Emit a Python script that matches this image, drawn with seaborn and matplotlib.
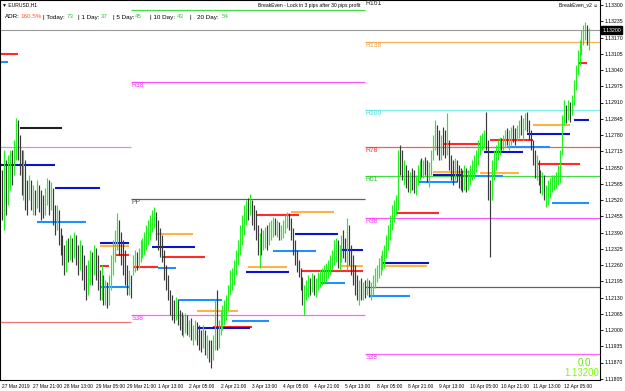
import matplotlib
matplotlib.use("Agg")
import matplotlib.pyplot as plt
import matplotlib.transforms as mtransforms
import seaborn as sns
import pandas as pd

sns.set_theme(style="white")
plt.rcParams['font.family'] = ['Liberation Sans', 'DejaVu Sans']

# ---------------- data (EURUSD H1, 27 Mar 2019 05:00 -> 12 Apr 2019) ----------------
first_open = 1.12600
high = [
 1.12640,1.12720,1.12680,1.12700,1.12720,1.12720,1.12760,1.12848,1.12840,1.12780,
 1.12720,1.12720,1.12680,1.12600,1.12620,1.12600,1.12580,1.12560,1.12600,1.12580,
 1.12560,1.12540,1.12568,1.12608,1.12600,1.12592,1.12568,1.12500,1.12500,1.12480,
 1.12408,1.12380,1.12340,1.12360,1.12368,1.12380,1.12368,1.12392,1.12380,1.12340,
 1.12360,1.12340,1.12300,1.12260,1.12280,1.12320,1.12312,1.12340,1.12328,1.12300,
 1.12240,1.12260,1.12220,1.12200,1.12192,1.12220,1.12300,1.12360,1.12400,1.12468,
 1.12440,1.12392,1.12360,1.12320,1.12260,1.12240,1.12220,
 1.12300,1.12320,1.12312,1.12328,1.12360,1.12368,1.12392,1.12420,1.12440,1.12460,
 1.12480,1.12492,1.12472,1.12440,1.12408,1.12380,1.12320,1.12260,1.12220,1.12160,
 1.12140,1.12120,1.12132,1.12120,1.12080,1.12072,1.12060,1.12068,1.12060,1.12040,
 1.12048,1.12020,1.12040,1.12032,1.12020,1.12000,1.12020,1.12000,1.11980,1.11960,
 1.11960,1.11980,1.12120,1.12160,1.12040,1.12080,1.12100,1.12120,1.12140,1.12180,
 1.12240,1.12248,1.12280,1.12320,1.12360,1.12420,1.12460,1.12500,1.12520,1.12528,
 1.12544,1.12520,1.12500,1.12480,1.12420,1.12388,1.12408,1.12400,1.12412,1.12420,
 1.12432,1.12440,1.12452,1.12448,1.12440,1.12432,1.12420,1.12440,1.12460,1.12472,
 1.12468,1.12448,1.12408,1.12360,1.12320,1.12280,1.12248,1.12212,1.12180,1.12200,
 1.12220,1.12208,1.12228,1.12220,1.12208,1.12232,1.12240,1.12248,1.12260,1.12268,
 1.12280,1.12300,1.12320,1.12360,1.12368,1.12360,1.12340,1.12380,1.12400,1.12368,
 1.12448,1.12420,1.12340,1.12300,1.12260,1.12220,1.12200,1.12208,1.12192,1.12200,
 1.12208,1.12200,1.12192,1.12220,1.12248,1.12260,1.12288,1.12300,1.12320,1.12340,
 1.12380,1.12420,1.12460,1.12500,1.12520,1.12540,1.12720,1.12740,1.12720,1.12680,
 1.12660,1.12640,1.12632,1.12648,1.12640,1.12620,1.12660,1.12680,1.12688,1.12680,
 1.12692,1.12680,1.12672,1.12720,1.12780,1.12840,1.12820,1.12800,1.12780,1.12812,
 1.12800,1.12868,1.12760,1.12700,1.12680,1.12688,1.12680,1.12660,1.12648,1.12640,
 1.12660,1.12648,1.12640,1.12660,1.12680,1.12700,1.12720,1.12760,1.12780,1.12788,
 1.12800,1.12872,1.12760,1.12600,1.12680,1.12720,1.12740,1.12760,1.12772,1.12768,
 1.12780,1.12800,1.12808,1.12800,1.12812,1.12820,1.12808,1.12820,1.12840,1.12860,
 1.12848,1.12868,1.12872,1.12840,1.12800,1.12760,1.12720,1.12700,1.12680,1.12640,
 1.12632,1.12620,1.12580,1.12600,1.12608,1.12620,1.12620,1.12632,1.12660,1.12720,
 1.12860,1.12920,1.12900,1.12920,1.12912,1.12940,1.13000,1.13060,1.13120,1.13160,
 1.13200,1.13220,1.13232,1.13220,1.13208,
]
low = [
 1.12440,1.12400,1.12460,1.12500,1.12560,1.12580,1.12620,1.12680,1.12680,1.12620,
 1.12540,1.12520,1.12480,1.12460,1.12520,1.12480,1.12460,1.12460,1.12488,1.12472,
 1.12440,1.12448,1.12460,1.12500,1.12460,1.12480,1.12420,1.12380,1.12400,1.12340,
 1.12300,1.12260,1.12220,1.12232,1.12272,1.12280,1.12272,1.12288,1.12260,1.12220,
 1.12240,1.12200,1.12160,1.12120,1.12140,1.12180,1.12180,1.12220,1.12200,1.12160,
 1.12120,1.12120,1.12100,1.12100,1.12088,1.12100,1.12160,1.12220,1.12272,1.12320,
 1.12300,1.12260,1.12220,1.12180,1.12140,1.12140,1.12128,
 1.12220,1.12232,1.12240,1.12248,1.12272,1.12288,1.12300,1.12320,1.12340,1.12360,
 1.12392,1.12408,1.12360,1.12320,1.12292,1.12272,1.12200,1.12160,1.12120,1.12060,
 1.12040,1.12028,1.12040,1.12020,1.12000,1.11980,1.11972,1.11988,1.11980,1.11972,
 1.11960,1.11940,1.11960,1.11940,1.11920,1.11912,1.11928,1.11900,1.11888,1.11872,
 1.11848,1.11880,1.11920,1.11920,1.11928,1.11980,1.12000,1.12020,1.12040,1.12080,
 1.12140,1.12160,1.12180,1.12220,1.12260,1.12300,1.12340,1.12380,1.12420,1.12440,
 1.12460,1.12420,1.12400,1.12360,1.12300,1.12248,1.12300,1.12320,1.12328,1.12320,
 1.12340,1.12360,1.12372,1.12380,1.12372,1.12360,1.12360,1.12368,1.12388,1.12408,
 1.12400,1.12360,1.12300,1.12260,1.12232,1.12212,1.12160,1.12100,1.12060,1.12120,
 1.12132,1.12140,1.12152,1.12140,1.12132,1.12160,1.12172,1.12180,1.12188,1.12192,
 1.12208,1.12220,1.12240,1.12260,1.12272,1.12248,1.12240,1.12272,1.12288,1.12272,
 1.12240,1.12260,1.12220,1.12180,1.12140,1.12120,1.12100,1.12120,1.12120,1.12128,
 1.12140,1.12132,1.12120,1.12140,1.12168,1.12192,1.12208,1.12220,1.12240,1.12248,
 1.12288,1.12320,1.12360,1.12400,1.12432,1.12460,1.12480,1.12620,1.12600,1.12580,
 1.12568,1.12552,1.12548,1.12560,1.12548,1.12540,1.12580,1.12600,1.12612,1.12608,
 1.12620,1.12592,1.12572,1.12620,1.12680,1.12720,1.12700,1.12680,1.12680,1.12700,
 1.12688,1.12700,1.12640,1.12600,1.12580,1.12600,1.12592,1.12568,1.12560,1.12552,
 1.12560,1.12552,1.12560,1.12580,1.12600,1.12608,1.12632,1.12660,1.12700,1.12720,
 1.12728,1.12720,1.12520,1.12292,1.12520,1.12600,1.12640,1.12680,1.12700,1.12720,
 1.12720,1.12728,1.12740,1.12720,1.12740,1.12752,1.12740,1.12760,1.12768,1.12780,
 1.12760,1.12800,1.12792,1.12760,1.12720,1.12660,1.12608,1.12600,1.12580,1.12548,
 1.12540,1.12520,1.12492,1.12500,1.12528,1.12552,1.12560,1.12568,1.12580,1.12588,
 1.12700,1.12820,1.12828,1.12840,1.12832,1.12860,1.12900,1.12960,1.13020,1.13060,
 1.13100,1.13140,1.13160,1.13140,1.13120,
]
close = [
 1.12540,1.12600,1.12520,1.12620,1.12660,1.12640,1.12720,1.12800,1.12760,1.12660,
 1.12600,1.12640,1.12560,1.12540,1.12580,1.12520,1.12540,1.12500,1.12560,1.12520,
 1.12500,1.12480,1.12540,1.12580,1.12520,1.12560,1.12460,1.12420,1.12460,1.12380,
 1.12340,1.12300,1.12260,1.12320,1.12300,1.12340,1.12320,1.12360,1.12300,1.12280,
 1.12320,1.12260,1.12220,1.12180,1.12240,1.12280,1.12240,1.12300,1.12260,1.12200,
 1.12160,1.12180,1.12140,1.12160,1.12120,1.12180,1.12240,1.12300,1.12340,1.12400,
 1.12360,1.12320,1.12280,1.12220,1.12180,1.12200,1.12160,
 1.12272,1.12288,1.12260,1.12300,1.12320,1.12340,1.12360,1.12380,1.12408,1.12420,
 1.12448,1.12460,1.12392,1.12360,1.12320,1.12300,1.12232,1.12180,1.12140,1.12100,
 1.12080,1.12060,1.12100,1.12048,1.12032,1.12008,1.12020,1.12040,1.12000,1.12008,
 1.11980,1.11992,1.12000,1.11968,1.11960,1.11940,1.11980,1.11920,1.11940,1.11900,
 1.11888,1.11940,1.12100,1.11940,1.12020,1.12060,1.12072,1.12100,1.12120,1.12160,
 1.12208,1.12220,1.12260,1.12300,1.12340,1.12392,1.12432,1.12480,1.12500,1.12480,
 1.12520,1.12460,1.12440,1.12392,1.12340,1.12360,1.12320,1.12368,1.12380,1.12340,
 1.12400,1.12408,1.12432,1.12400,1.12420,1.12380,1.12400,1.12420,1.12440,1.12448,
 1.12420,1.12380,1.12320,1.12288,1.12248,1.12232,1.12180,1.12120,1.12140,1.12160,
 1.12180,1.12160,1.12200,1.12168,1.12180,1.12208,1.12220,1.12232,1.12240,1.12248,
 1.12260,1.12280,1.12300,1.12328,1.12340,1.12280,1.12320,1.12360,1.12340,1.12300,
 1.12420,1.12288,1.12248,1.12208,1.12168,1.12140,1.12160,1.12152,1.12168,1.12160,
 1.12180,1.12152,1.12168,1.12200,1.12232,1.12240,1.12272,1.12280,1.12300,1.12320,
 1.12360,1.12400,1.12440,1.12480,1.12500,1.12520,1.12700,1.12660,1.12620,1.12640,
 1.12600,1.12580,1.12608,1.12580,1.12568,1.12600,1.12640,1.12660,1.12640,1.12660,
 1.12648,1.12620,1.12640,1.12700,1.12760,1.12800,1.12740,1.12720,1.12760,1.12728,
 1.12720,1.12740,1.12680,1.12640,1.12620,1.12660,1.12632,1.12600,1.12592,1.12580,
 1.12620,1.12600,1.12608,1.12640,1.12660,1.12680,1.12700,1.12740,1.12760,1.12768,
 1.12780,1.12760,1.12540,1.12520,1.12640,1.12700,1.12720,1.12740,1.12752,1.12740,
 1.12760,1.12780,1.12760,1.12768,1.12792,1.12780,1.12768,1.12800,1.12820,1.12808,
 1.12832,1.12848,1.12820,1.12780,1.12740,1.12700,1.12640,1.12660,1.12608,1.12580,
 1.12600,1.12540,1.12540,1.12568,1.12580,1.12600,1.12608,1.12616,1.12640,1.12700,
 1.12840,1.12880,1.12848,1.12900,1.12880,1.12920,1.12980,1.13040,1.13100,1.13140,
 1.13180,1.13200,1.13208,1.13180,1.13200,
]

price_ticks = [1.13300, 1.13235, 1.13170, 1.13105, 1.13040, 1.12975, 1.12910, 1.12845,
               1.12780, 1.12715, 1.12650, 1.12585, 1.12520, 1.12455, 1.12390, 1.12325,
               1.12260, 1.12195, 1.12130, 1.12065, 1.12000, 1.11935, 1.11870, 1.11805]
time_tick_bars = [0, 16, 32, 48, 64, 80, 96, 112, 128, 144, 160, 176, 192, 208, 224, 240, 256, 272, 288]
time_tick_labels = ["27 Mar 2019", "27 Mar 21:00", "28 Mar 13:00", "29 Mar 05:00", "29 Mar 21:00",
                    "1 Apr 13:00", "2 Apr 05:00", "2 Apr 21:00", "3 Apr 13:00", "4 Apr 05:00",
                    "4 Apr 21:00", "5 Apr 13:00", "8 Apr 05:00", "8 Apr 21:00", "9 Apr 13:00",
                    "10 Apr 05:00", "10 Apr 21:00", "11 Apr 13:00", "12 Apr 05:00"]
bid_price = 1.13200

# weekly Fibonacci pivots: week start bar / end bar, names, prices
week_start = [-2, 66, 186]
week_end = [66, 186, 310]
lvl_week = [0, 0, 1, 1, 1, 1, 2, 2, 2, 2, 2, 2, 2]
lvl_name = ["w1a", "w1b", "R61", "R38", "PP", "S38", "R138", "R100", "R78", "R61", "R38", "PP", "S38"]
lvl_price = [1.12732, 1.12032, 1.13280, 1.12992, 1.12524, 1.12060,
             1.13152, 1.12880, 1.12732, 1.12616, 1.12448, 1.12172, 1.11904]
lvl_label = ["", "", "", "R38", "PP", "S38", "R138", "R100", "R78", "R61", "R38", "", "S38"]
r161_week = 2

# daily level segments: start bar, end bar, price, kind
seg_start = [-2, -2, 9, -2, 27, 18, 50, 50, 58, 50, 50,
             67, 80, 79, 77, 82, 90, 100, 118, 108, 100, 130, 148, 150, 139, 126, 125, 154, 163, 173, 173,
             202, 195, 194, 213, 221, 221, 235, 245, 247, 274, 282, 226, 250, 272, 269, 259, 293, 295, 188]
seg_end = [8, 3, 31, 27, 50, 43, 65, 65, 65, 55, 65,
           80, 89, 98, 99, 104, 113, 121, 137, 128, 127, 152, 170, 172, 161, 146, 147, 185, 176, 185, 185,
           224, 219, 218, 233, 242, 235, 257, 265, 267, 296, 301, 245, 272, 291, 291, 281, 301, 300, 209]
seg_price = [1.13104, 1.13072, 1.12808, 1.12660, 1.12568, 1.12432, 1.12348, 1.12336, 1.12300, 1.12256, 1.12172,
             1.12252, 1.12248, 1.12384, 1.12332, 1.12292, 1.12120, 1.12076, 1.12036, 1.12012, 1.12008,
             1.12460, 1.12472, 1.12384, 1.12316, 1.12252, 1.12232, 1.12236, 1.12188, 1.12320, 1.12256,
             1.12468, 1.12268, 1.12256, 1.12592, 1.12632, 1.12620, 1.12616, 1.12628, 1.12712, 1.12664,
             1.12508, 1.12744, 1.12760, 1.12820, 1.12784, 1.12732, 1.12840, 1.13068, 1.12136]
seg_kind = ["red", "blue", "black", "navy", "navy", "blue", "navy", "orange", "red", "red", "blue",
            "red", "blue", "orange", "navy", "red", "blue", "orange", "blue", "red", "navy",
            "red", "orange", "navy", "blue", "orange", "navy", "red", "blue", "navy", "orange",
            "red", "navy", "orange", "blue", "orange", "navy", "blue", "orange", "navy", "red",
            "blue", "red", "red", "orange", "navy", "blue", "navy", "red", "blue"]

# ---------------- styles ----------------
UP = "#22EE22"
DOWN = "#3A3A3A"
seg_colors = {"red": "#FF2A2A", "blue": "#1E90FF", "navy": "#0A14C8", "orange": "#FFB347", "black": "#202020"}
lvl_colors = {"w1a": "#EE82EE", "w1b": "#F07272", "R61": "#44DD44", "R38": "#FF55FF", "PP": "#606060",
              "S38": "#FF66FF", "R138": "#F7B55A", "R100": "#7FEFEF", "R78": "#FF5A5A"}
lbl_colors = {"R38": "#FF33FF", "PP": "#505050", "S38": "#FF33FF", "R138": "#F0A040", "R100": "#40E0E0",
              "R78": "#FF3030", "R61": "#22CC22"}

W, H = 625, 391
fig = plt.figure(figsize=(W / 100, H / 100), dpi=100)
ax = fig.add_axes([0, 11 / H, 600 / W, 380 / H])
XMIN, XMAX = -1.03, 306.5
ax.set_xlim(XMIN, XMAX)
ax.set_ylim(1.11800, 1.13320)

n = min(len(high), len(low), len(close))
df = pd.DataFrame({"bar": list(range(n)), "high": high[:n], "low": low[:n], "close": close[:n]})
df["open"] = [first_open] + list(df["close"].iloc[:-1])
df["up"] = df["close"] >= df["open"]

# weekly levels
for w, name, p, lab in zip(lvl_week, lvl_name, lvl_price, lvl_label):
    ax.hlines(p, max(week_start[w], XMIN), min(week_end[w], XMAX), color=lvl_colors[name], lw=0.9, zorder=1)
    if lab:
        ax.text(week_start[w] + 0.3, p, lab, color=lbl_colors[lab], fontsize=4.9, va="top", ha="left",
                zorder=5)
ax.text(week_start[r161_week] + 0.3, 1.13320, "R161", color="#303030", fontsize=4.9, va="top", ha="left")

# bid line
ax.axhline(bid_price, color="#9A9A9A", lw=0.8, zorder=1)

# daily segments
for s, e, p, k in zip(seg_start, seg_end, seg_price, seg_kind):
    ax.hlines(p, max(s, XMIN), min(e, XMAX), color=seg_colors[k], lw=1.5, zorder=2)

# bars
for up, col in [(True, UP), (False, DOWN)]:
    d = df[df["up"] == up]
    ax.vlines(d["bar"], d["low"], d["high"], color=col, lw=0.85, zorder=3)

# axes styling
for sp in ax.spines.values():
    sp.set_color("black")
    sp.set_linewidth(0.8)
ax.yaxis.tick_right()
ax.set_yticks(price_ticks)
ax.set_yticklabels([f"{p:.5f}" for p in price_ticks])
ax.tick_params(axis="y", direction="out", length=2, width=0.6, labelsize=3.7, pad=1.5, colors="black")
ax.set_xticks(time_tick_bars)
ax.set_xticklabels(time_tick_labels)
ax.tick_params(axis="x", direction="out", length=2, width=0.6, labelsize=3.5, pad=1, colors="black")
for lbl in ax.get_xticklabels():
    lbl.set_horizontalalignment("left")
ax.grid(False)

# bid box
tr = mtransforms.blended_transform_factory(ax.transAxes, ax.transData)
ax.text(1.004, bid_price, f"{bid_price:.5f}", transform=tr, color="white", fontsize=3.7, va="center",
        ha="left", bbox=dict(boxstyle="square,pad=0.25", fc="black", ec="black"), zorder=6, clip_on=False)

# header texts
def ftext(x, y, s, **kw):
    fig.text(x / W, 1 - y / H, s, va="center", **kw)

ftext(2, 5, "\u25bc EURUSD,H1", fontsize=3.6, color="black")
ftext(258, 5, "BreakEven - Lock in 3 pips after 30 pips profit", fontsize=3.6, color="black")
ftext(559, 5, "BreakEven_v2 \u263a", fontsize=3.6, color="black")
adr_parts = [("ADR:", "black"), ("160.5%", "#FF5A1E"), ("| Today:", "black"), ("73", "#2ECC2E"),
             ("| 1 Day:", "black"), ("37", "#2ECC2E"), ("| 5 Day:", "black"), ("45", "#2ECC2E"),
             ("| 10 Day:", "black"), ("43", "#2ECC2E"), ("|", "black"), ("20 Day:", "black"),
             ("54", "#2ECC2E")]
adr_x = [5, 20, 43, 67, 78, 101, 113, 135, 150, 177, 190, 197, 222]
for (s, c), x in zip(adr_parts, adr_x):
    ftext(x, 17, s, fontsize=4.5, color=c)

ftext(578, 363, "0.0", fontsize=7, color="#66E01A")
ftext(564, 373, "1.13200", fontsize=7, color="#7CFC00")

fig.savefig("out.png", dpi=100)
